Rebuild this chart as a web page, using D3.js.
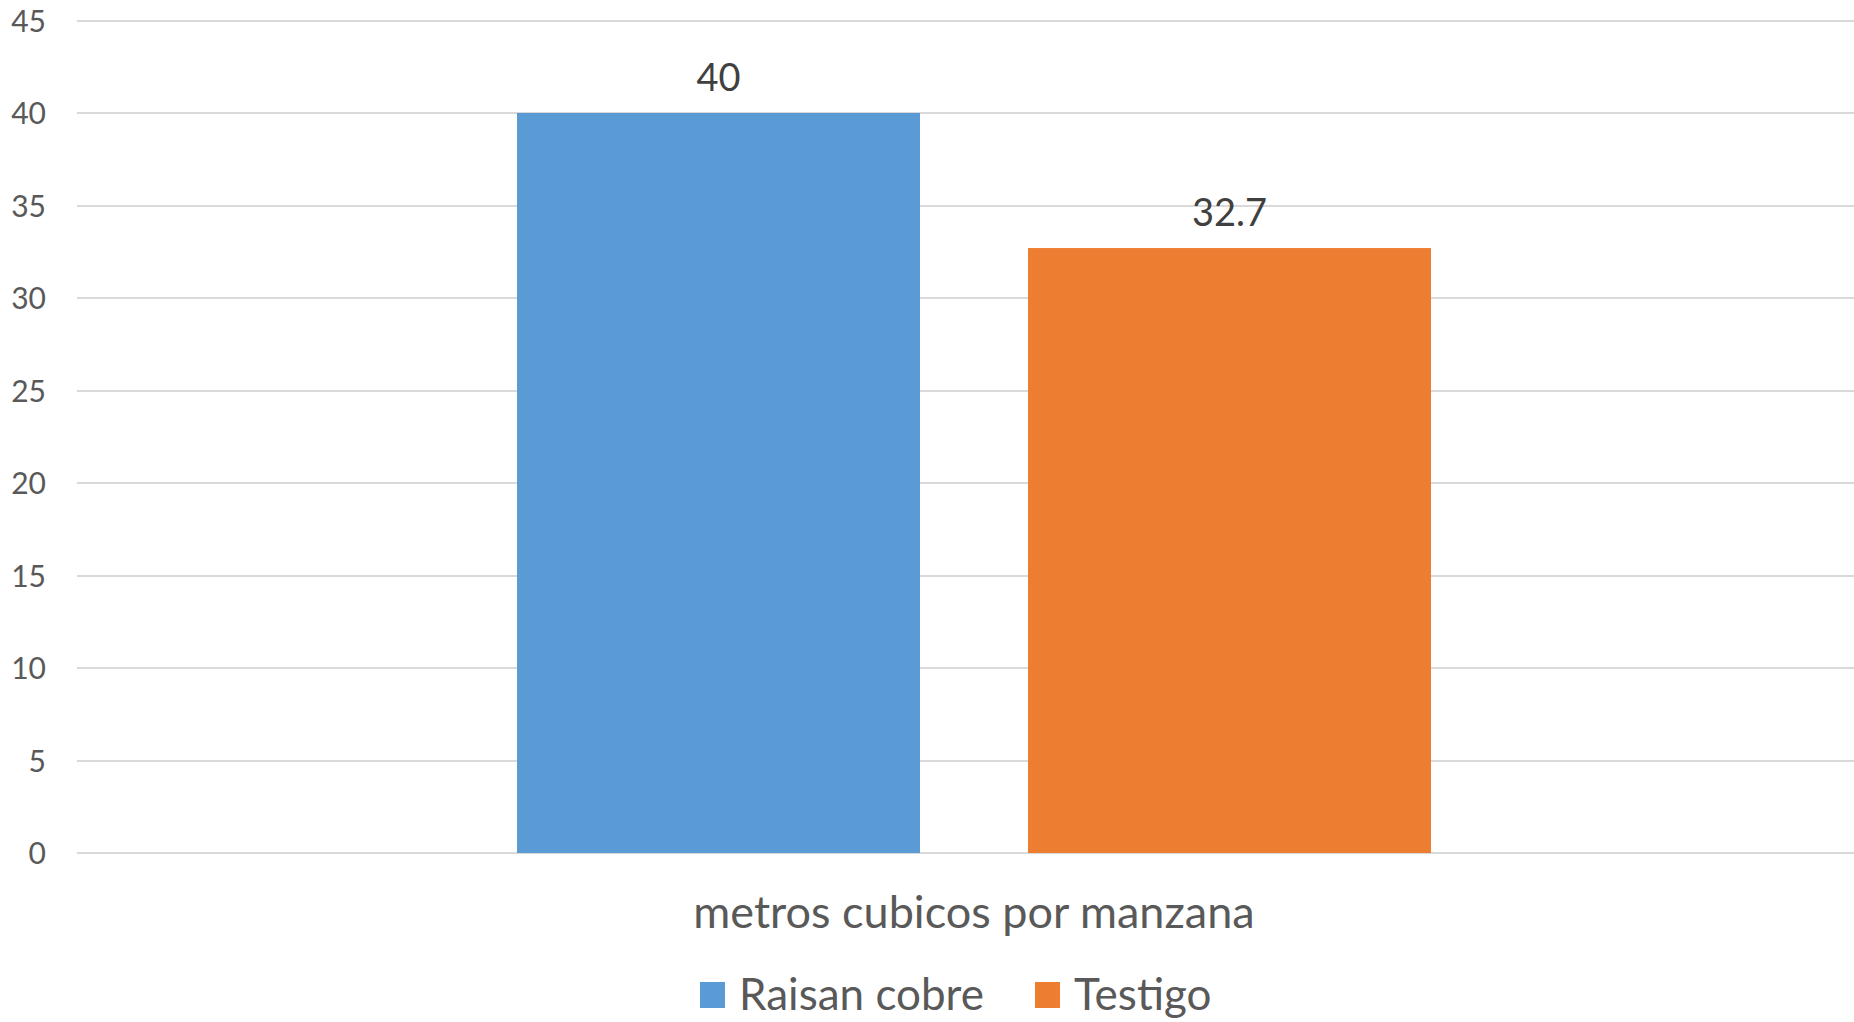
<!DOCTYPE html>
<html>
<head>
<meta charset="utf-8">
<script src="https://cdn.jsdelivr.net/npm/d3@7"></script>
<style>
  body { margin: 0; background: #fff; }
  svg { display: block; font-family: Lato, "Open Sans", sans-serif; }
</style>
</head>
<body>
<svg width="1854" height="1022"></svg>
<script>
// chart data
var categories = ["metros cubicos por manzana"];
var seriesNames = ["Raisan cobre", "Testigo"];
var seriesValues = [40, 32.7];
var yTicks = [0, 5, 10, 15, 20, 25, 30, 35, 40, 45];

var colors = ["#5B9BD5", "#ED7D31"];

var svg = d3.select("svg"),
  plotLeft = 77, plotRight = 1871, plotTop = 20.5, plotBottom = 853;

var y = d3.scaleLinear().domain([0, 45]).range([plotBottom, plotTop]);

var x0 = d3.scaleBand().domain(categories).range([plotLeft, plotRight])
  .paddingInner(0).paddingOuter(0.4814);

var x1 = d3.scaleBand().domain(seriesNames).range([0, x0.bandwidth()])
  .paddingInner(0.2114).paddingOuter(0);

// gridlines
svg.append("g")
  .selectAll("line")
  .data(yTicks)
  .enter().append("line")
  .attr("x1", plotLeft).attr("x2", 1854)
  .attr("y1", function (d) { return Math.round(y(d)); })
  .attr("y2", function (d) { return Math.round(y(d)); })
  .attr("stroke", "#D9D9D9")
  .attr("stroke-width", 2);

// y axis labels
var yAxis = d3.axisLeft(y).tickValues(yTicks).tickSize(0).tickPadding(0);
svg.append("g")
  .attr("transform", "translate(46,0)")
  .call(yAxis)
  .call(function (g) { g.select(".domain").remove(); })
  .selectAll("text")
  .attr("font-family", "Lato, 'Open Sans', sans-serif")
  .attr("font-size", 30)
  .attr("fill", "#595959")
  .attr("dy", "0.36em");

var data = seriesNames.map(function (s, i) {
  return { cat: categories[0], name: s, value: seriesValues[i] };
});

// bars
svg.append("g")
  .selectAll("rect")
  .data(data)
  .enter().append("rect")
  .attr("x", function (d) { return x0(d.cat) + x1(d.name); })
  .attr("y", function (d) { return y(d.value); })
  .attr("width", x1.bandwidth())
  .attr("height", function (d) { return y(0) - y(d.value); })
  .attr("fill", function (d, i) { return colors[i]; });

// value labels
svg.append("g")
  .selectAll("text")
  .data(data)
  .enter().append("text")
  .attr("x", function (d) { return x0(d.cat) + x1(d.name) + x1.bandwidth() / 2; })
  .attr("y", function (d) { return y(d.value) - 22; })
  .attr("text-anchor", "middle")
  .attr("font-size", 38)
  .attr("fill", "#404040")
  .text(function (d) { return d.value; });

// category label
svg.append("g")
  .selectAll("text")
  .data(categories)
  .enter().append("text")
  .attr("x", function (d) { return x0(d) + x0.bandwidth() / 2; })
  .attr("y", 928)
  .attr("text-anchor", "middle")
  .attr("font-size", 45)
  .attr("fill", "#595959")
  .text(function (d) { return d; });

// legend
var legendX = [700, 1035];
var legend = svg.append("g")
  .selectAll("g")
  .data(seriesNames)
  .enter().append("g")
  .attr("transform", function (d, i) { return "translate(" + legendX[i] + ",0)"; });

legend.append("rect")
  .attr("x", 0).attr("y", 982)
  .attr("width", 25).attr("height", 26)
  .attr("fill", function (d, i) { return colors[i]; });

legend.append("text")
  .attr("x", 39).attr("y", 1010)
  .attr("font-size", 44)
  .attr("fill", "#595959")
  .text(function (d) { return d; });
</script>
</body>
</html>
